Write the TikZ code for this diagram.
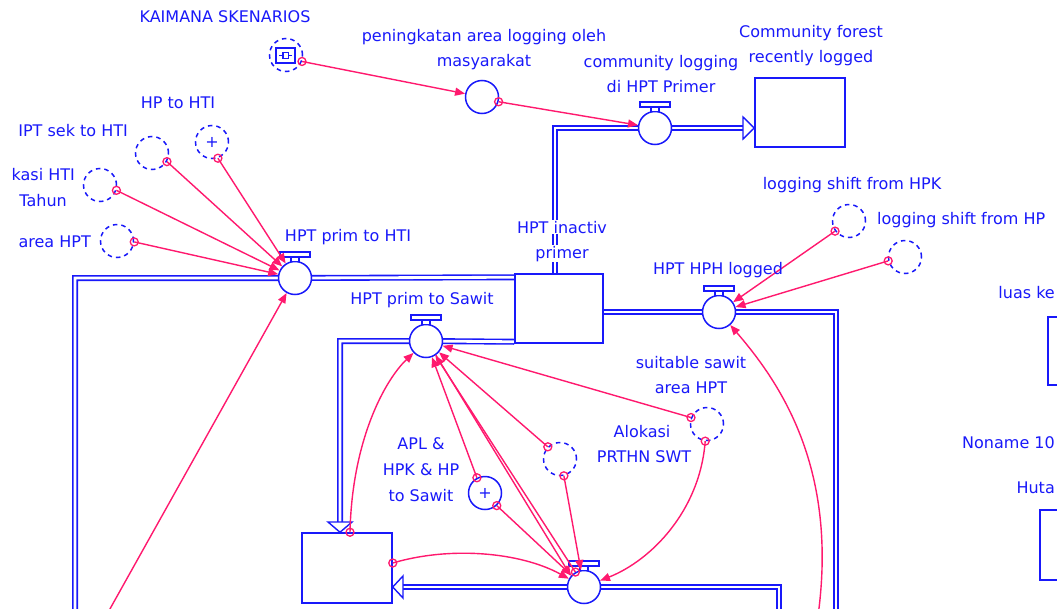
\documentclass[tikz,border=0pt]{standalone}
\usepackage{fontspec}
\setmainfont{DejaVu Sans}
\usetikzlibrary{arrows.meta,backgrounds}
\definecolor{vb}{RGB}{25,25,250}
\definecolor{pk}{RGB}{255,25,110}
\begin{document}
\begin{tikzpicture}[x=1pt,y=-1pt,
  lbl/.style={text=vb, font=\fontsize{16}{25}\selectfont, inner sep=0pt, anchor=base},
  stock/.style={draw=vb, line width=1.5pt, rectangle, minimum width=88pt, minimum height=69pt, fill=white, inner sep=0pt},
  valve/.style={draw=vb, line width=1.5pt, circle, minimum size=33pt, inner sep=0pt, fill=white},
  aux/.style={draw=vb, line width=1.5pt, circle, minimum size=33pt, inner sep=0pt, text=vb, font=\fontsize{16}{16}\selectfont},
  ghost/.style={aux, dash pattern=on 4.5pt off 4pt},
  pipe/.style={draw=vb, line width=1.6pt, double=white, double distance=2.8pt},
  conn/.style={draw=pk, line width=1.4pt, -{Triangle[length=10pt,width=8pt]}},
  orig/.style={draw=pk, line width=1.3pt},
  tip/.style={draw=vb, line width=1.4pt, fill=white},
]
\newcommand{\myvalve}[3]{%
  \node[valve] (#1) at (#2,#3) {};
  \draw[vb, line width=1.2pt, fill=white] ([xshift=-15pt,yshift=26pt]#1.center) rectangle ([xshift=15pt,yshift=21pt]#1.center);
  \draw[vb, line width=1.2pt, fill=white] ([xshift=-4pt,yshift=21pt]#1.center) rectangle ([xshift=4pt,yshift=16.5pt]#1.center);
}
\newcommand{\lnk}[2]{\draw[conn] (#1) -- (#2); \draw[orig] (#1) circle (4pt);}

\useasboundingbox (0,0) rectangle (1057,608);

% stocks
\node[stock] (sInact) at (559,308.5) {};
\node[stock, minimum width=90pt] (sCom) at (800,112.5) {};
\node[stock, minimum width=90pt, minimum height=70pt] (sSaw) at (347,568) {};
\node[stock, minimum width=90pt, minimum height=68pt] (sLuas) at (1093,351) {};
\node[stock, minimum width=90pt, minimum height=70pt] (sHuta) at (1085,545) {};

% valves
\myvalve{vHTI}{295}{278}
\myvalve{vSaw}{426}{341}
\myvalve{vCom}{655}{128}
\myvalve{vHPH}{719}{312}
\myvalve{vBot}{584}{587}

% pipes
\begin{scope}[on background layer]
\fill[white] (0,0) rectangle (1057,608);
\draw[pipe] ([xshift=-4pt]sInact.north) |- (vCom.center);
\draw[pipe] (vCom.center) -- (743,128);
\draw[pipe] ([yshift=-4pt]sInact.north west) -- (vHTI.center) -| (75,625);
\draw[pipe] ([yshift=2pt]sInact.south west) -- (vSaw.center) -| (340,523);
\draw[pipe] (sInact.east |- vHPH.center) -- (vHPH.center) -| (836,625);
\draw[pipe] (vBot.center) -| (779,625);
\draw[pipe] (vBot.center) -- (403,587);
\end{scope}

% flow arrowheads (open)
\draw[tip] (743,117) -- ([yshift=-15.5pt]sCom.west) -- (743,139) -- cycle;
\draw[tip] (328,522) -- ([xshift=-7pt]sSaw.north) -- (352,522) -- cycle;
\draw[tip] (403,576) -- ([yshift=-19pt]sSaw.east) -- (403,598) -- cycle;

% auxiliaries and ghosts
\node[aux] (aMas) at (482,97) {};
\node[aux] (aAPL) at (485,493) {+};
\node[ghost] (gKai) at (286,55) {};
\draw[vb, line width=1.3pt] (276,48) rectangle (295,63);
\draw[vb, line width=1.3pt] (279,55.5) -- (292,55.5);
\draw[vb, line width=1.3pt, fill=white] (283,52.5) rectangle (288.5,58.5);
\node[ghost] (gHP) at (212,142) {+};
\node[ghost] (gSek) at (152,153) {};
\node[ghost] (gAlo) at (100,185) {};
\node[ghost] (gArea) at (117,241) {};
\node[ghost] (gHPK) at (849,221) {};
\node[ghost] (gHPx) at (905,257) {};
\node[ghost] (gSuit) at (707,424) {};
\node[ghost] (gAloS) at (560,459) {};

% off-canvas connector sources
\coordinate (offA) at (106,616);
\coordinate (offB) at (818,616);

% connectors
\lnk{gKai.-22}{aMas}
\lnk{aMas.-16}{vCom}
\lnk{gHP.-70}{vHTI}
\lnk{gSek.-30}{vHTI}
\lnk{gAlo.-18}{vHTI}
\lnk{gArea.-3}{vHTI}
\draw[conn] (offA) -- (vHTI);
\lnk{gHPK.-144}{vHPH}
\lnk{gHPx.-167}{vHPH}
\draw[conn] (offB) .. controls (838,470) and (782,385) .. (vHPH);

\draw[conn] ([xshift=3pt]sSaw.north) .. controls (352,440) and (385,380) .. (vSaw);
\draw[orig] ([xshift=3pt]sSaw.north) circle (4pt);
\lnk{aAPL.118}{vSaw}
\lnk{vBot.120}{vSaw}
\lnk{gAloS.135}{vSaw}
\lnk{gSuit.158}{vSaw}
\draw[conn] (vSaw.-55) -- (vBot.140);
\lnk{gAloS.-77}{vBot}
\lnk{aAPL.-47}{vBot}
\draw[conn] ([yshift=5pt]sSaw.east) .. controls (450,546) and (520,552) .. (vBot);
\draw[orig] ([yshift=5pt]sSaw.east) circle (4pt);
\draw[conn] (gSuit.-96) .. controls (700,510) and (652,560) .. (vBot);
\draw[orig] (gSuit.-96) circle (4pt);

% labels
\node[lbl] (tKai) at (225,22) {KAIMANA SKENARIOS};
\node[lbl] (tMas1) at (484,41) {peningkatan area logging oleh};
\node[lbl] (tMas2) at (484,66) {masyarakat};
\node[lbl] (tCl1) at (661,67) {community logging};
\node[lbl] (tCl2) at (661,92) {di HPT Primer};
\node[lbl] (tCf1) at (811,37) {Community forest};
\node[lbl] (tCf2) at (811,62) {recently logged};
\node[lbl] (tHP) at (178,108) {HP to HTI};
\node[lbl, anchor=base east] (tSek) at (128,136) {IPT sek to HTI};
\node[lbl, anchor=base east] (tAlo1) at (75,180) {kasi HTI};
\node[lbl, anchor=base east] (tAlo2) at (67,206) {Tahun};
\node[lbl, anchor=base east] (tArea) at (91,247) {area HPT};
\node[lbl] (tHTI) at (348,241) {HPT prim to HTI};
\node[lbl, fill=white, inner sep=1pt] (tIn1) at (562,233) {HPT inactiv};
\node[lbl, fill=white, inner sep=1pt] (tIn2) at (562,258) {primer};
\node[lbl] (tSaw) at (422,304) {HPT prim to Sawit};
\node[lbl] (tHPH) at (718,274) {HPT HPH logged};
\node[lbl] (tHPK) at (852,189) {logging shift from HPK};
\node[lbl, anchor=base west] (tHPx) at (877,224) {logging shift from HP};
\node[lbl] (tSu1) at (691,368) {suitable sawit};
\node[lbl] (tSu2) at (691,393) {area HPT};
\node[lbl] (tAs1) at (642,437) {Alokasi};
\node[lbl] (tAs2) at (644,462) {PRTHN SWT};
\node[lbl] (tAp1) at (421,449) {APL \&};
\node[lbl] (tAp2) at (421,475) {HPK \& HP};
\node[lbl] (tAp3) at (421,501) {to Sawit};
\node[lbl, anchor=base east] (tLuas) at (1055,298) {luas ke};
\node[lbl, anchor=base east] (tNon) at (1055,448) {Noname 10};
\node[lbl, anchor=base east] (tHuta) at (1055,493) {Huta};
\end{tikzpicture}
\end{document}
